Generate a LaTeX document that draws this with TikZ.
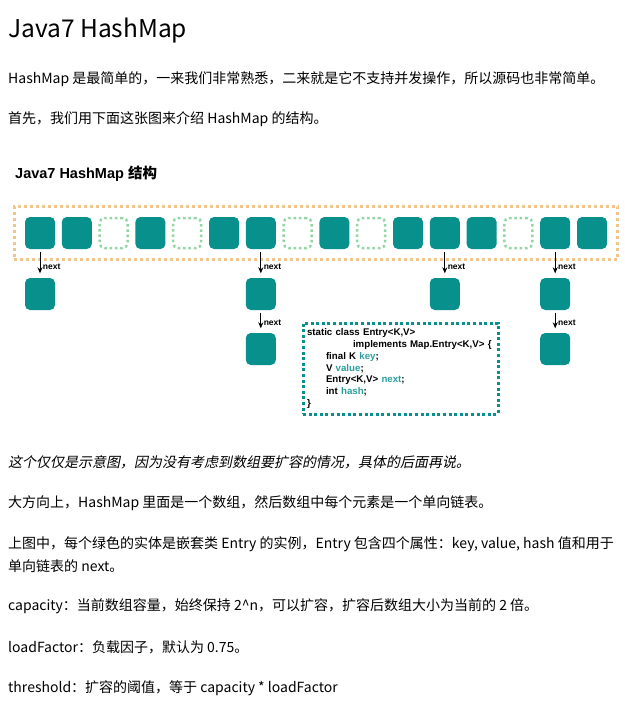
\documentclass[tikz,border=0pt]{standalone}
\usepackage{fontspec}
\setmainfont{Noto Sans CJK SC}
\newfontfamily\figfont{Liberation Sans}
\newfontfamily\cjkslant[FakeSlant=0.2]{Noto Sans CJK SC}
\usetikzlibrary{arrows.meta,fit}
\definecolor{bucketteal}{RGB}{8,144,141}
\definecolor{freegreen}{RGB}{146,214,164}
\definecolor{tableorange}{RGB}{241,196,140}
\definecolor{fieldteal}{RGB}{42,160,158}
\newcommand{\fieldname}[1]{\textcolor{fieldteal}{#1}}

\begin{document}
\begin{tikzpicture}[x=1pt, y=-1pt,
  para/.style={anchor=west, inner sep=0pt, font=\fontsize{14}{17}\selectfont},
  full/.style={rectangle, rounded corners=5pt, fill=bucketteal, minimum width=30pt, minimum height=32pt, inner sep=0pt},
  free/.style={rectangle, rounded corners=5pt, draw=freegreen, line width=2.5pt, dash pattern=on 2.5pt off 2.8pt, minimum width=28pt, minimum height=30pt, inner sep=0pt},
  table/.style={draw=tableorange, line width=3pt, dash pattern=on 3pt off 3pt, inner sep=10.5pt},
  codebox/.style={draw=bucketteal, line width=3pt, dash pattern=on 3pt off 2.6pt, minimum width=195pt, minimum height=91pt, text width=187pt, inner xsep=4pt, align=left, font=\figfont\bfseries\fontsize{9.7}{11.8}\selectfont},
  nextarrow/.style={-{Stealth[length=6pt, width=5pt]}, line width=0.9pt, shorten <=2.5pt, shorten >=4.5pt},
  nextlabel/.style={right=2pt, inner sep=0.5pt, font=\figfont\bfseries\fontsize{8.5}{9}\selectfont}]

  \useasboundingbox[fill=white] (0,0) rectangle (624,704);

  \node[para, font=\fontsize{24.5}{28}\selectfont] (heading) at (8,31) {Java7 HashMap};
  \node[para] (intro) at (8,79) {HashMap 是最简单的，一来我们非常熟悉，二来就是它不支持并发操作，所以源码也非常简单。};
  \node[para] (lead) at (8,119) {首先，我们用下面这张图来介绍 HashMap 的结构。};

  \node[anchor=west, inner sep=0pt] (title) at (15,174) {\fontsize{14.5}{17}\selectfont\figfont\bfseries Java7 HashMap \normalfont\fontsize{14.5}{17}\selectfont\bfseries 结构};

  \node[full] (b1) at (40,233) {};
  \node[full] (b2) at (76.8,233) {};
  \node[free] (b3) at (113.6,233) {};
  \node[full] (b4) at (150.4,233) {};
  \node[free] (b5) at (187.2,233) {};
  \node[full] (b6) at (224,233) {};
  \node[full] (b7) at (260.8,233) {};
  \node[free] (b8) at (297.6,233) {};
  \node[full] (b9) at (334.4,233) {};
  \node[free] (b10) at (371.2,233) {};
  \node[full] (b11) at (408,233) {};
  \node[full] (b12) at (444.8,233) {};
  \node[full] (b13) at (481.6,233) {};
  \node[free] (b14) at (518.4,233) {};
  \node[full] (b15) at (555.2,233) {};
  \node[full] (b16) at (592,233) {};
  \node[table, fit=(b1)(b16)] (array) {};

  \node[full] (e1) at (40,294) {};
  \node[full] (e7) at (260.8,294) {};
  \node[full] (e7b) at (260.8,349) {};
  \node[full] (e12) at (444.8,294) {};
  \node[full] (e15) at (555.2,294) {};
  \node[full] (e15b) at (555.2,349) {};

  \draw[nextarrow] (b1) -- (e1) node[nextlabel, pos=0.62] {next};
  \draw[nextarrow] (b7) -- (e7) node[nextlabel, pos=0.62] {next};
  \draw[nextarrow] (e7) -- (e7b) node[nextlabel, pos=0.55] {next};
  \draw[nextarrow] (b12) -- (e12) node[nextlabel, pos=0.62] {next};
  \draw[nextarrow] (b15) -- (e15) node[nextlabel, pos=0.62] {next};
  \draw[nextarrow] (e15) -- (e15b) node[nextlabel, pos=0.55] {next};

  \node[codebox] (entry) at (400.5,368.5) {static class Entry<K,V>\\
    \hspace*{46pt}implements Map.Entry<K,V> \{\\
    \hspace*{19pt}final K \fieldname{key};\\
    \hspace*{19pt}V \fieldname{value};\\
    \hspace*{19pt}Entry<K,V> \fieldname{next};\\
    \hspace*{19pt}int \fieldname{hash};\\
    \}};

  \node[para, font=\cjkslant\fontsize{14}{17}\selectfont] (note) at (8,462) {这个仅仅是示意图，因为没有考虑到数组要扩容的情况，具体的后面再说。};
  \node[para] (overview) at (8,503) {大方向上，HashMap 里面是一个数组，然后数组中每个元素是一个单向链表。};
  \node[para] (entrytext) at (8,544) {上图中，每个绿色的实体是嵌套类 Entry 的实例，Entry 包含四个属性：key, value, hash 值和用于};
  \node[para] (entrytext2) at (8,566) {单向链表的 next。};
  \node[para] (capacity) at (8,606) {capacity：当前数组容量，始终保持 2\textasciicircum n，可以扩容，扩容后数组大小为当前的 2 倍。};
  \node[para] (loadfactor) at (8,647) {loadFactor：负载因子，默认为 0.75。};
  \node[para] (threshold) at (8,688) {threshold：扩容的阈值，等于 capacity * loadFactor};
\end{tikzpicture}
\end{document}
